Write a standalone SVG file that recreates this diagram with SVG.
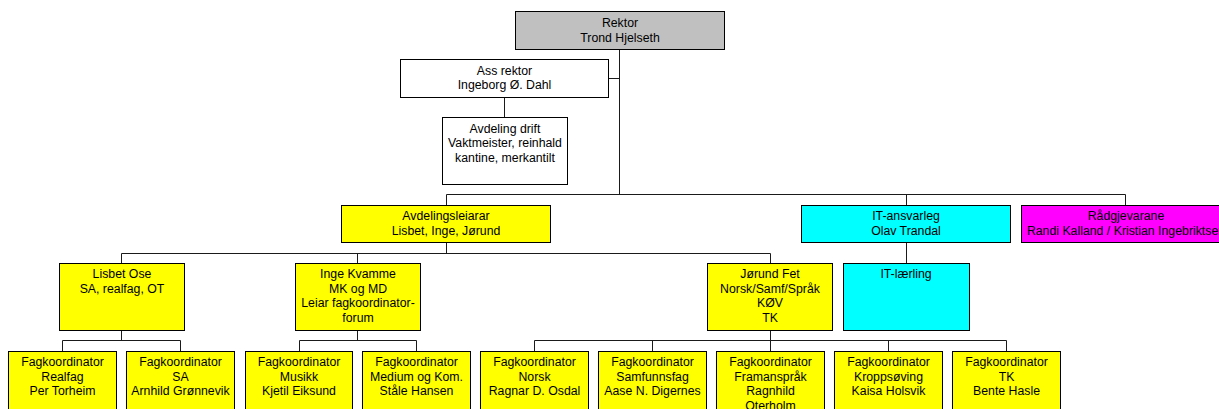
<svg xmlns="http://www.w3.org/2000/svg" width="1219" height="409" viewBox="0 0 1219 409">
<style>
rect{stroke:#000;stroke-width:1}
.g{fill:#c0c0c0}.w{fill:#fff}.y{fill:#ffff00}.c{fill:#00ffff}.m{fill:#ff00ff}
text{font-family:"Liberation Sans",Arial,sans-serif;font-size:12.3px;fill:#000;text-anchor:middle}
#connectors path{stroke:#1a1a1a;stroke-width:1;fill:none}
</style>
<rect x="0" y="0" width="1219" height="409" fill="#fff" style="stroke:none"/>
<g id="connectors">
<path d="M619.5 49V194.5M609 78.5H619.5M504.5 97V117M446.5 194.5H1125.5M446.5 194.5V205M906.5 194.5V205M1125.5 194.5V205"/>
<path d="M446.5 242V253.5M121.5 253.5H770.5M121.5 253.5V263M357.5 253.5V263M770.5 253.5V263M906.5 242V263"/>
<path d="M121.5 330V340.5M62.5 340.5H180.5M62.5 340.5V351M180.5 340.5V351"/>
<path d="M357.5 330V340.5M299.5 340.5H416.5M299.5 340.5V351M416.5 340.5V351"/>
<path d="M770.5 330V340.5M534.5 340.5H1006.5M534.5 340.5V351M652.5 340.5V351M770.5 340.5V351M888.5 340.5V351M1006.5 340.5V351"/>
</g>
<g id="rektor"><rect class="g" x="515.5" y="11.5" width="209" height="38"/><text x="620" y="27.3">Rektor</text><text x="620" y="41.7">Trond Hjelseth</text></g>
<g id="assrektor"><rect class="w" x="400.5" y="59.5" width="208" height="38"/><text x="504.5" y="74.5">Ass rektor</text><text x="504.5" y="89">Ingeborg Ø. Dahl</text></g>
<g id="drift"><rect class="w" x="442.5" y="117.5" width="125" height="67"/><text x="505" y="132.5">Avdeling drift</text><text x="505" y="147">Vaktmeister, reinhald</text><text x="505" y="161.5">kantine, merkantilt</text></g>
<g id="avdelingsleiarar"><rect class="y" x="341.5" y="205.5" width="209" height="37"/><text x="446" y="220">Avdelingsleiarar</text><text x="446" y="234.5">Lisbet, Inge, Jørund</text></g>
<g id="itansvarleg"><rect class="c" x="801.5" y="205.5" width="209" height="37"/><text x="906" y="220">IT-ansvarleg</text><text x="906" y="234.5">Olav Trandal</text></g>
<g id="radgjevarane"><rect class="m" x="1021.5" y="205.5" width="209" height="37"/><text x="1126" y="220">Rådgjevarane</text><text x="1126" y="234.5">Randi Kalland / Kristian Ingebriktsen</text></g>
<g id="lisbet"><rect class="y" x="59.5" y="263.5" width="125" height="67"/><text x="122" y="278">Lisbet Ose</text><text x="122" y="292.5">SA, realfag, OT</text></g>
<g id="inge"><rect class="y" x="295.5" y="263.5" width="125" height="67"/><text x="358" y="278">Inge Kvamme</text><text x="358" y="292.5">MK og MD</text><text x="358" y="307">Leiar fagkoordinator-</text><text x="358" y="321.5">forum</text></g>
<g id="jorund"><rect class="y" x="707.5" y="263.5" width="125" height="67"/><text x="770" y="278">Jørund Fet</text><text x="770" y="292.5">Norsk/Samf/Språk</text><text x="770" y="307">KØV</text><text x="770" y="321.5">TK</text></g>
<g id="itlaerling"><rect class="c" x="843.5" y="263.5" width="126" height="67"/><text x="906" y="278">IT-lærling</text></g>
<g id="realfag"><rect class="y" x="8.5" y="351.5" width="108" height="67"/><text x="62.5" y="366">Fagkoordinator</text><text x="62.5" y="380.5">Realfag</text><text x="62.5" y="395">Per Torheim</text></g>
<g id="sa"><rect class="y" x="126.5" y="351.5" width="108" height="67"/><text x="180.5" y="366">Fagkoordinator</text><text x="180.5" y="380.5">SA</text><text x="180.5" y="395">Arnhild Grønnevik</text></g>
<g id="musikk"><rect class="y" x="245.5" y="351.5" width="107" height="67"/><text x="299" y="366">Fagkoordinator</text><text x="299" y="380.5">Musikk</text><text x="299" y="395">Kjetil Eiksund</text></g>
<g id="medium"><rect class="y" x="362.5" y="351.5" width="108" height="67"/><text x="416.5" y="366">Fagkoordinator</text><text x="416.5" y="380.5">Medium og Kom.</text><text x="416.5" y="395">Ståle Hansen</text></g>
<g id="norsk"><rect class="y" x="480.5" y="351.5" width="108" height="67"/><text x="534.5" y="366">Fagkoordinator</text><text x="534.5" y="380.5">Norsk</text><text x="534.5" y="395">Ragnar D. Osdal</text></g>
<g id="samfunnsfag"><rect class="y" x="598.5" y="351.5" width="108" height="67"/><text x="652.5" y="366">Fagkoordinator</text><text x="652.5" y="380.5">Samfunnsfag</text><text x="652.5" y="395">Aase N. Digernes</text></g>
<g id="framansprak"><rect class="y" x="716.5" y="351.5" width="108" height="67"/><text x="770.5" y="366">Fagkoordinator</text><text x="770.5" y="380.5">Framanspråk</text><text x="770.5" y="395">Ragnhild</text><text x="770.5" y="409.5">Oterholm</text></g>
<g id="kroppsoving"><rect class="y" x="834.5" y="351.5" width="108" height="67"/><text x="888.5" y="366">Fagkoordinator</text><text x="888.5" y="380.5">Kroppsøving</text><text x="888.5" y="395">Kaisa Holsvik</text></g>
<g id="tk"><rect class="y" x="952.5" y="351.5" width="108" height="67"/><text x="1006.5" y="366">Fagkoordinator</text><text x="1006.5" y="380.5">TK</text><text x="1006.5" y="395">Bente Hasle</text></g>
</svg>
